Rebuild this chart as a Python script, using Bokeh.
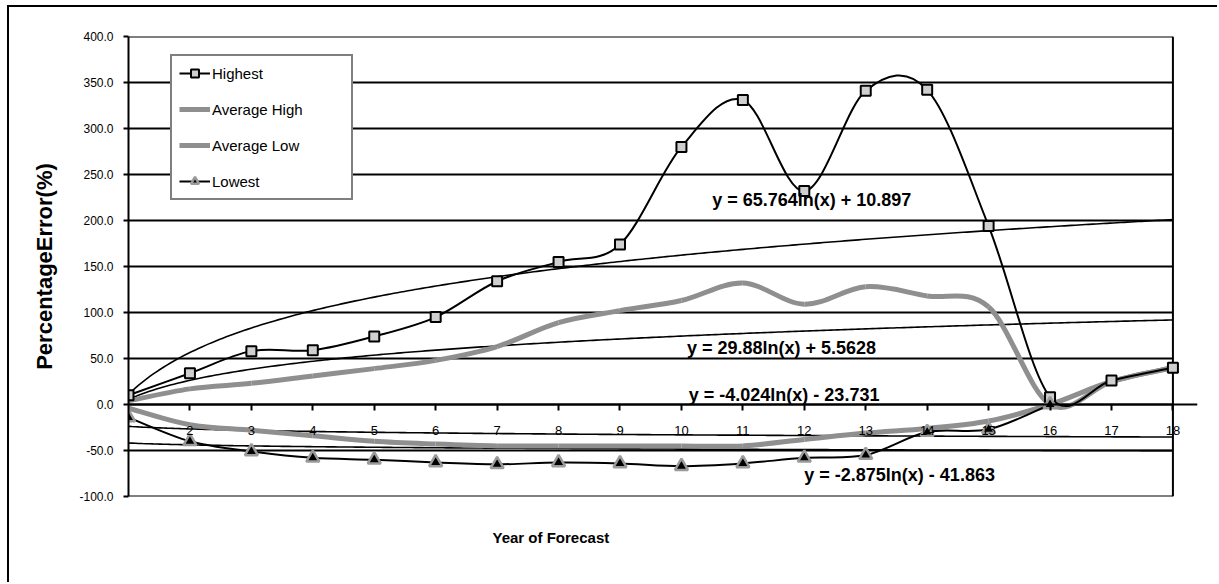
import numpy as np
from bokeh.plotting import figure
from bokeh.layouts import column, row
from bokeh.models import (LinearAxis, FixedTicker, NumeralTickFormatter, Legend,
                          LegendItem, Label, Range1d, Title, Div)
from bokeh.embed import file_html
from bokeh.resources import INLINE

# ---------------- data ----------------
years = list(range(1, 19))
highest = [10, 34, 58, 59, 74, 95, 134, 155, 174, 280, 331, 232, 341, 342, 194, 8, 26, 40]
average_high = [4, 17, 23, 31, 39, 48, 63, 89, 102, 113, 132, 109, 128, 118, 106, 0, 25, 40]
average_low = [-4, -22, -28, -34, -40, -43, -45, -45, -45, -45, -45, -38, -31, -26, -18, 0, 25, 40]
lowest_years = list(range(1, 17))
lowest = [-14, -40, -51, -58, -60, -63, -65, -63, -64, -67, -64, -58, -55, -30, -27, 0]

# logarithmic trendlines (slope, intercept, label)
trend_slopes = [65.764, 29.88, -4.024, -2.875]
trend_intercepts = [10.897, 5.5628, -23.731, -41.863]
trend_labels = ["y = 65.764ln(x) + 10.897", "y = 29.88ln(x) + 5.5628",
                "y = -4.024ln(x) -  23.731", "y = -2.875ln(x) -  41.863"]

y_ticks = [-100, -50, 0, 50, 100, 150, 200, 250, 300, 350, 400]
x_ticks = years[1:]

FONT = "Liberation Sans"

p = figure(width=1208, height=575, output_backend="svg", toolbar_location=None,
           x_range=Range1d(1, 18.4), y_range=Range1d(-100, 400),
           x_axis_location=None, min_border_left=119, min_border_right=20,
           min_border_top=29, min_border_bottom=86, margin=0)

p.outline_line_color = None
p.xgrid.visible = False
p.ygrid.visible = False

# horizontal gridlines and right edge of the category span
p.segment(x0=years[0], x1=years[-1], y0=y_ticks, y1=y_ticks,
          line_color="black", line_width=2)
p.segment(x0=years[-1], x1=years[-1], y0=y_ticks[0], y1=y_ticks[-1],
          line_color="black", line_width=2)

yax = p.yaxis[0]
yax.ticker = FixedTicker(ticks=y_ticks)
yax.formatter = NumeralTickFormatter(format="0.0")
yax.axis_line_color = "black"
yax.axis_line_width = 2
yax.major_tick_line_width = 2
yax.major_tick_out = 5
yax.major_tick_in = 0
yax.minor_tick_line_color = None
yax.major_label_text_font = FONT
yax.major_label_text_font_size = "12px"
yax.major_label_text_color = "black"
yax.major_label_standoff = 10
yax.axis_label = "PercentageError(%)"
yax.axis_label_text_font = FONT
yax.axis_label_text_font_size = "22px"
yax.axis_label_text_font_style = "bold"
yax.axis_label_text_color = "black"
yax.axis_label_standoff = 19

xax = LinearAxis(fixed_location=0, ticker=FixedTicker(ticks=x_ticks))
xax.axis_line_color = "black"
xax.axis_line_width = 2
xax.major_tick_line_width = 2
xax.major_tick_out = 6
xax.major_tick_in = 0
xax.minor_tick_line_color = None
xax.major_label_text_font = FONT
xax.major_label_text_font_size = "13px"
xax.major_label_text_color = "black"
xax.major_label_standoff = 15
p.add_layout(xax, "below")

p.add_layout(Title(text="Year of Forecast", align="left", offset=364,
                   text_font=FONT, text_font_size="15px", text_font_style="bold",
                   text_color="black", standoff=61), "below")

# trendlines
xs = np.linspace(years[0], years[-1], 300)
for a, b in zip(trend_slopes, trend_intercepts):
    p.line(xs, a * np.log(xs) + b, line_color="black", line_width=1.6)


def smooth(p, x, y, **kw):
    x = np.asarray(x, float)
    y = np.asarray(y, float)
    n = len(x)
    xp = np.concatenate([[x[0]], x, [x[-1]]])
    yp = np.concatenate([[y[0]], y, [y[-1]]])
    i = np.arange(n - 1) + 1
    return p.bezier(x0=xp[i], y0=yp[i], x1=xp[i + 1], y1=yp[i + 1],
                    cx0=xp[i] + (xp[i + 1] - xp[i - 1]) / 6,
                    cy0=yp[i] + (yp[i + 1] - yp[i - 1]) / 6,
                    cx1=xp[i + 1] - (xp[i + 2] - xp[i]) / 6,
                    cy1=yp[i + 1] - (yp[i + 2] - yp[i]) / 6, **kw)


GREY = "#8f8f8f"
r_ah = smooth(p, years, average_high, line_color=GREY, line_width=5)
r_al = smooth(p, years, average_low, line_color=GREY, line_width=5)
r_h = smooth(p, years, highest, line_color="black", line_width=2)
r_hm = p.scatter(years, highest, marker="square", size=10, fill_color="#cfcfcf",
                 line_color="black", line_width=2)
r_l = smooth(p, lowest_years, lowest, line_color="black", line_width=2)
r_lm = p.scatter(lowest_years, lowest, marker="triangle", size=13, fill_color="black",
                 line_color="#9a9a9a", line_width=2.5)

# trendline equations
label_x = [10.5, 10.09, 10.12, 12.0]
label_y = [222, 61, 10, -77]
for t, lx, ly in zip(trend_labels, label_x, label_y):
    p.add_layout(Label(x=lx, y=ly, text=t, text_font=FONT, text_font_size="18px",
                       text_font_style="bold", text_color="black",
                       text_baseline="middle", text_align="left"))

legend = Legend(items=[LegendItem(label="Highest", renderers=[r_h, r_hm]),
                       LegendItem(label="Average High", renderers=[r_ah]),
                       LegendItem(label="Average Low", renderers=[r_al]),
                       LegendItem(label="Lowest", renderers=[r_l, r_lm])],
                location=(42, 296), orientation="vertical")
legend.border_line_color = "black"
legend.border_line_width = 2
legend.background_fill_color = "white"
legend.background_fill_alpha = 1
legend.label_text_font = FONT
legend.label_text_font_size = "15px"
legend.label_text_color = "black"
legend.glyph_width = 31
legend.glyph_height = 20
legend.label_height = 20
legend.label_width = 132
legend.label_standoff = 2
legend.spacing = 16
legend.padding = 7
legend.margin = 0
p.add_layout(legend, "center")

# outer chart border (only its top and left edges fall inside the window)
top_line = Div(text="", width=1210, height=2, margin=0,
               styles={"background-color": "black"})
left_line = Div(text="", width=2, height=575, margin=0,
                styles={"background-color": "black"})
layout = column(top_line, row(left_line, p, spacing=0), spacing=0)
layout.styles = {"margin-left": "7px", "margin-top": "5px"}

open("out.html", "w").write(file_html(layout, INLINE))
